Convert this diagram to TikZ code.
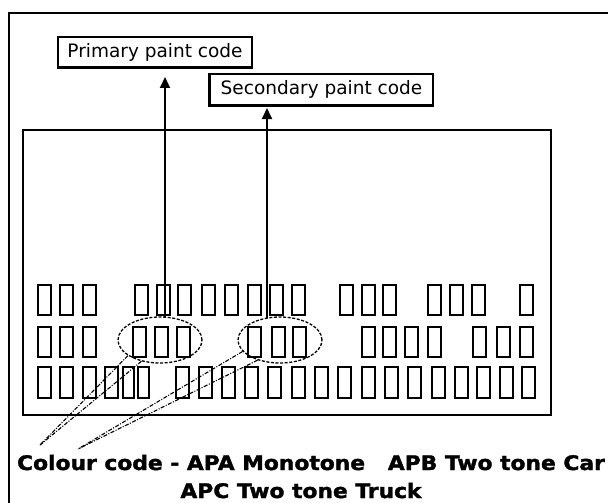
\documentclass[tikz,border=0pt]{standalone}
\usepackage{fontspec}
\setmainfont{DejaVu Sans}
\newfontfamily\capfont{DejaVu Sans Bold}[FakeBold=1.6]
\usetikzlibrary{arrows.meta,shapes.geometric}
\begin{document}
\begin{tikzpicture}[x=1pt,y=-1pt,
  frame/.style={line width=2.4pt},
  labelbox/.style={draw, line width=1.6pt, inner sep=0pt, font=\fontsize{18.5}{20}\selectfont},
  glyph/.style={line width=2pt},
  ring/.style={draw, ellipse, dash pattern=on 3pt off 1.6pt, line width=1.3pt, inner sep=0pt, minimum width=84pt, minimum height=46pt},
  pointer/.style={line width=1.8pt, -{Triangle[width=10pt,length=11pt]}},
  leader/.style={line width=1.1pt, dash pattern=on 4pt off 1.5pt on 1pt off 1.5pt},
  caption/.style={font=\capfont\fontsize{20}{22}\selectfont, inner sep=0pt, anchor=base}]
\useasboundingbox (0,0) rectangle (608,503);
\fill[white] (0,0) rectangle (608,503);
\draw[frame] (608,13) -- (9,13) -- (9,503);
\node[draw, line width=2pt, minimum width=528pt, minimum height=285pt, inner sep=0pt, anchor=north west] (panel) at (22,129) {};
% label boxes
\node[labelbox, minimum width=194pt, minimum height=30pt] (prim) at (155,52) {Primary paint code};
\draw[line width=3pt] (prim.south west) -- (prim.south east);
\node[labelbox, minimum width=223pt, minimum height=31pt] (sec) at (321.5,89.5) {Secondary paint code};
\draw[line width=2.8pt] (sec.north west) -- (sec.south west) -- (sec.south east);
% character boxes
\foreach \x in {38,60,83,135,157,178,202,225,248,270,292,340,362,383,428,450,472,520}
  \draw[glyph] (\x,285) rectangle ++(13,30);
\foreach \x in {38,60,83,133,155,177,248,272,293,362,383,405,428,473,497,520}
  \draw[glyph] (\x,327) rectangle ++(13,30);
\foreach \x in {38,60,83,105}
  \draw[glyph] (\x,367) rectangle ++(13,31);
\foreach \x in {123,138}
  \draw[glyph] (\x,367) rectangle ++(11,31);
\foreach \x in {176,199,222,245,268,292,315,338,362,385,408,432,455,477,500,522}
  \draw[glyph] (\x,367) rectangle ++(13,31);
% rings
\node[ring] (e1) at (160,340) {};
\node[ring] (e2) at (280,340) {};
% pointers
\coordinate (a1s) at (165,317);
\coordinate (a1e) at (165,77);
\coordinate (a2s) at (267,318);
\coordinate (a2e) at (267,108);
\draw[pointer] (a1s) -- (a1e);
\draw[pointer] (a2s) -- (a2e);
% leaders
\coordinate (t1) at (40,445);
\coordinate (t2) at (78,449);
\draw[leader] (e1.206) -- (t1);
\draw[leader] (e1.229) -- (t1);
\draw[leader] (e2.197) -- (t2);
\draw[leader] (e2.222) -- (t2);
% caption
\node[caption] (cc1) at (311,470) {\scalebox{1.09}[1]{Colour code - APA Monotone\ \ \ APB Two tone Car}};
\node[caption] (cc2) at (301,498) {\scalebox{1.09}[1]{APC Two tone Truck}};
\end{tikzpicture}
\end{document}
